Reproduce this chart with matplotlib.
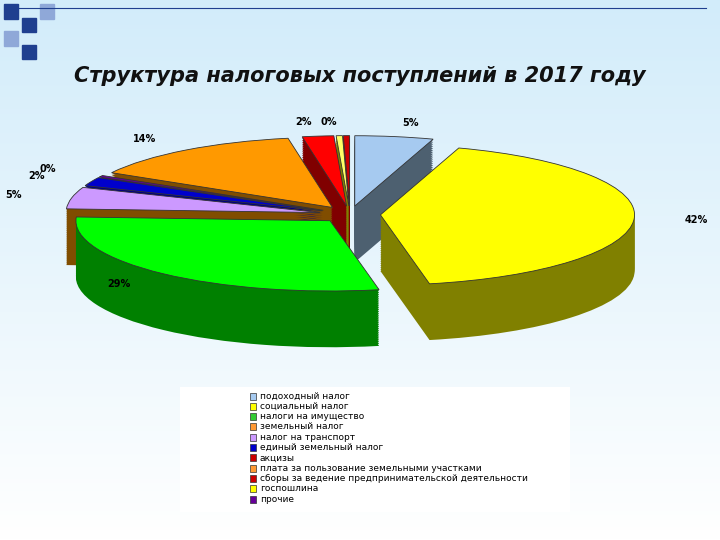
import matplotlib
matplotlib.use("Agg")
import matplotlib.pyplot as plt
import matplotlib.colors as mc
import numpy as np

categories = ["подоходный налог", "социальный налог", "налоги на имущество", "налог на транспорт",
              "единый земельный налог", "прочие", "земельный налог", "акцизы",
              "госпошлина", "сборы за ведение предпринимательской деятельности"]
values = [5, 42, 29, 5, 2, 0.4, 14, 2, 0.4, 0.4]
labels = ["5%", "42%", "29%", "5%", "2%", "0%", "14%", "2%", "0%", ""]
colors = ["#a6caf0", "#ffff00", "#00ff00", "#cc99ff", "#0000cc", "#660099",
          "#ff9900", "#ff0000", "#ffff66", "#cc0000"]
side_colors = ["#4d6070", "#808000", "#008000", "#804d00", "#000080", "#330066",
               "#804d00", "#800000", "#808000", "#800000"]

legend_items = ["подоходный налог", "социальный налог", "налоги на имущество", "земельный налог",
                "налог на транспорт", "единый земельный налог", "акцизы",
                "плата за пользование земельными участками",
                "сборы за ведение предпринимательской деятельности", "госпошлина", "прочие"]
legend_colors = ["#a6caf0", "#ffff00", "#33cc33", "#ff9933", "#cc99ff", "#0000cc", "#cc0000",
                 "#ff9933", "#cc0000", "#ffff00", "#660099"]

fig = plt.figure(figsize=(7.2, 5.4), dpi=100)
bg = fig.add_axes([0, 0, 1, 1])
grad = np.linspace(0, 1, 256).reshape(-1, 1)
cmap = mc.LinearSegmentedColormap.from_list("g", ["#d2ecfa", "#ffffff"])
bg.imshow(grad, aspect="auto", cmap=cmap, extent=[0, 1, 0, 1], origin="upper")
bg.set_axis_off()
for (x, y, c) in [(0.005, 0.985, "#1f3f8f"), (0.03, 0.96, "#1f3f8f"), (0.005, 0.935, "#8fa8d8"),
                  (0.055, 0.985, "#8fa8d8"), (0.03, 0.91, "#1f3f8f")]:
    bg.add_patch(plt.Rectangle((x, y - 0.02), 0.02, 0.027, color=c, transform=bg.transAxes))
bg.plot([0.02, 0.98], [0.985, 0.985], color="#1f3f8f", lw=0.8, transform=bg.transAxes)
fig.text(0.5, 0.86, "Структура налоговых поступлений в 2017 году", ha="center", va="center",
         fontsize=15, fontstyle="italic", fontweight="bold", color="#111111")

ax = fig.add_axes([40/720, 1 - 350/540, 620/720, 220/540])
explode = [0.12] * len(values)
depth = 0.8
for d in np.linspace(depth, 0.02, 30):
    ax.pie(values, colors=side_colors, startangle=90, counterclock=False, explode=explode,
           center=(0, -d), wedgeprops=dict(linewidth=0))
ax.pie(values, colors=colors, startangle=90, counterclock=False, explode=explode,
       center=(0, 0), labels=labels, labeldistance=1.2,
       wedgeprops=dict(linewidth=0.6, edgecolor="#333333"),
       textprops=dict(fontsize=7, fontweight="bold"))
ax.set_aspect("auto")
ax.set_xlim(-1.22, 1.22)
ax.set_ylim(-1.93, 1.2)
ax.set_axis_off()

lax = fig.add_axes([180/720, 1 - 512/540, 390/720, 125/540])
lax.set_facecolor("white")
lax.set_xticks([]); lax.set_yticks([])
for s in lax.spines.values():
    s.set_visible(False)
lax.set_xlim(0, 390); lax.set_ylim(125, 0)
for i, (t, c) in enumerate(zip(legend_items, legend_colors)):
    y = 9 + i * 10.3
    lax.add_patch(plt.Rectangle((70, y - 3.5), 6, 7, facecolor=c, edgecolor="#333333", lw=0.5))
    lax.text(80, y, t, fontsize=6.5, va="center", ha="left")

fig.savefig("out.png", dpi=100)
